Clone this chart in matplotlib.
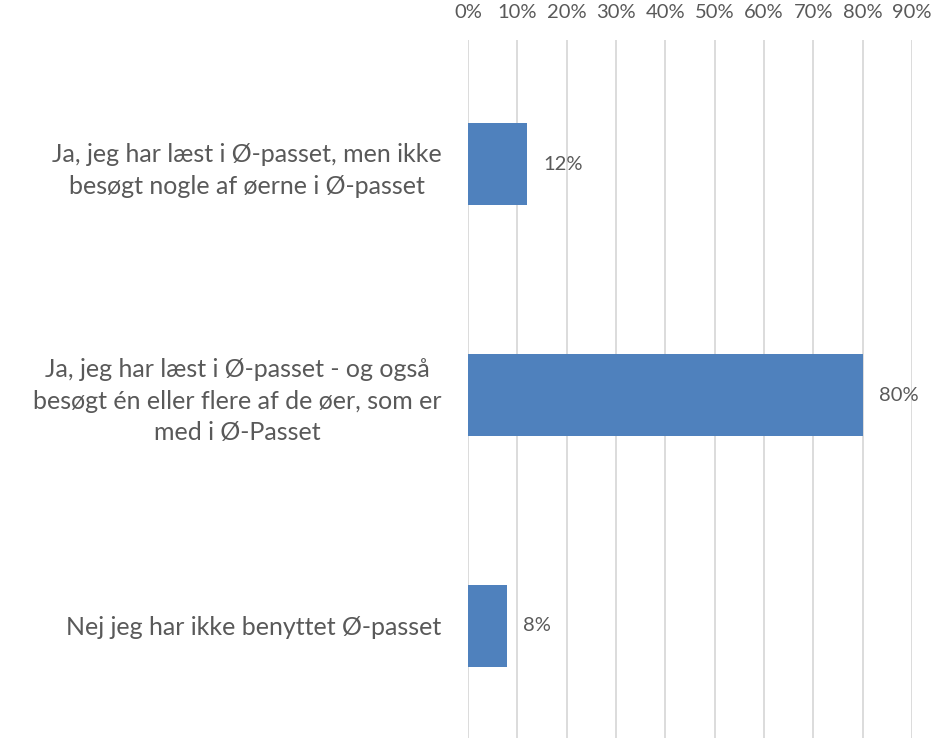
import matplotlib.pyplot as plt
from matplotlib.ticker import FuncFormatter, MultipleLocator

categories = [
    "Ja, jeg har læst i Ø-passet, men ikke\nbesøgt nogle af øerne i Ø-passet",
    "Ja, jeg har læst i Ø-passet - og også\nbesøgt én eller flere af de øer, som er\nmed i Ø-Passet",
    "Nej jeg har ikke benyttet Ø-passet",
]
shares = [0.12, 0.80, 0.08]
value_labels = ["12%", "80%", "8%"]

plt.rcParams['font.family'] = ['Lato', 'DejaVu Sans']
text_color = '#595959'

fig = plt.figure(figsize=(9.37, 7.38), dpi=100)
ax = fig.add_axes([468 / 937, 0.0, (912 - 468) / 937, 1 - 40 / 738])

pos = list(range(len(categories)))
ax.barh(pos, shares, height=0.355, color='#4F81BD', zorder=3)

# data labels to the right of each bar
for p, v, lab in zip(pos, shares, value_labels):
    ax.annotate(lab, (v, p), xytext=(16, 0), textcoords='offset pixels',
                va='center', ha='left', fontsize=14.5, color=text_color)

ax.set_xlim(0, 0.9)
ax.set_ylim(2.485, -0.537)
ax.xaxis.set_major_locator(MultipleLocator(0.1))
ax.xaxis.set_major_formatter(FuncFormatter(lambda x, _: f"{x * 100:.0f}%"))
ax.xaxis.tick_top()
ax.tick_params(axis='x', length=0, pad=14, labelsize=14.5, labelcolor=text_color)
ax.grid(axis='x', color='#D9D9D9', linewidth=1.3, zorder=0)

ax.set_yticks(pos)
ax.set_yticklabels(categories, fontsize=18, color=text_color, ha='right',
                   multialignment='center', linespacing=1.45)
ax.tick_params(axis='y', length=0, pad=19)

for s in ax.spines.values():
    s.set_visible(False)

fig.savefig('out.png', dpi=100)
